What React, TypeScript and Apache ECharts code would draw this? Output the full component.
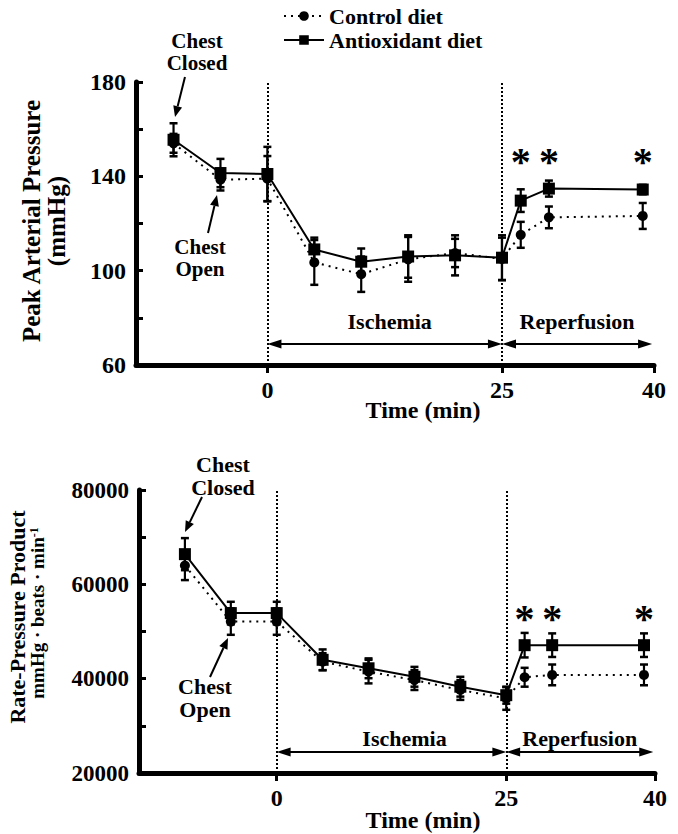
import React, { useEffect, useRef } from "react";
import * as echarts from "echarts";

// ---------------- data ----------------
const times = [-10, -5, 0, 5, 10, 15, 20, 25, 27, 30, 40];

// Peak arterial pressure (mmHg)
const papControl = [154, 138.6, 139, 103.5, 98.5, 104.8, 107.5, 105, 115.2, 122.6, 123.2];
const papControlErr = [4, 4.6, 9.6, 9.5, 7.5, 9.5, 6, 9, 5.5, 4.6, 5.5];
const papAntiox = [155.5, 141.4, 141, 109, 103.8, 106, 106.5, 105.5, 129.7, 134.8, 134.4];
const papAntioxErr = [7, 6, 11.5, 5, 5.6, 9, 8.5, 9.5, 4.8, 3.4, 2];

// Rate-pressure product (mmHg·beats·min-1)
const rppControl = [64000, 52100, 52100, 43600, 41500, 39700, 37600, 35800, 40300, 40800, 40800];
const rppControlErr = [3100, 2800, 2800, 1800, 2500, 2100, 2100, 2400, 2000, 2200, 2200];
const rppAntiox = [66400, 53900, 53900, 44000, 42200, 40400, 38300, 36500, 47100, 47100, 47100];
const rppAntioxErr = [3400, 2400, 2400, 2200, 2100, 2100, 2100, 1800, 2600, 2500, 2500];

// significance markers
const starTimes = [27, 30, 40];
const papStarLevel = 146.5;
const rppStarLevel = 52800;

// axes
const xTickValues = [0, 25, 41.2];
const xTickLabels = ["0", "25", "40"];
const papTickLabels = [60, 100, 140, 180];
const rppTickLabels = [20000, 40000, 60000, 80000];

// phases
const phaseBoundaries = [0, 25];
const ischemiaSpan = [0, 25];
const reperfusionSpan = [25, 41];

// ---------------- styling ----------------
const FF = "'Liberation Serif', 'Times New Roman', Times, serif";
const bold = (s: number) => `bold ${s}px ${FF}`;
const BLACK = "#000";

function errorBarSeries(name: string, idx: number, mean: number[], err: number[]) {
  return {
    type: "custom",
    name: name + " err",
    xAxisIndex: idx,
    yAxisIndex: idx,
    silent: true,
    z: 1,
    data: times.map((t, i) => [t, mean[i] - err[i], mean[i] + err[i]]),
    encode: { x: 0, y: [1, 2] },
    renderItem: (_p: any, api: any) => {
      const x = api.value(0);
      const lo = api.coord([x, api.value(1)]);
      const hi = api.coord([x, api.value(2)]);
      const hw = 4;
      const st = { stroke: BLACK, lineWidth: 2.2 };
      return {
        type: "group",
        children: [
          { type: "line", shape: { x1: hi[0], y1: hi[1], x2: lo[0], y2: lo[1] }, style: st },
          { type: "line", shape: { x1: hi[0] - hw, y1: hi[1], x2: hi[0] + hw, y2: hi[1] }, style: { stroke: BLACK, lineWidth: 2.5 } },
          { type: "line", shape: { x1: lo[0] - hw, y1: lo[1], x2: lo[0] + hw, y2: lo[1] }, style: { stroke: BLACK, lineWidth: 2.5 } },
        ],
      };
    },
  };
}

function starSeries(idx: number, level: number) {
  return {
    type: "custom",
    name: "stars" + idx,
    xAxisIndex: idx,
    yAxisIndex: idx,
    silent: true,
    data: starTimes.map((t) => [t, level]),
    encode: { x: 0, y: 1 },
    renderItem: (_p: any, api: any) => {
      const p = api.coord([api.value(0), api.value(1)]);
      return {
        type: "text",
        x: p[0],
        y: p[1],
        style: { text: "*", font: bold(40), fill: BLACK, textAlign: "center", textVerticalAlign: "middle" },
      };
    },
  };
}

function lineSeries(name: string, idx: number, vals: number[], control: boolean, arrowY: number, labelDist: number, ischPad: number) {
  const s: any = {
    type: "line",
    name,
    xAxisIndex: idx,
    yAxisIndex: idx,
    z: 3,
    data: times.map((t, i) => [t, vals[i]]),
    symbol: control ? "circle" : "rect",
    symbolSize: control ? 10 : 12,
    itemStyle: { color: BLACK },
    lineStyle: { color: BLACK, width: 2, type: control ? [2, 5] : "solid" },
  };
  if (control) {
    s.markLine = {
      silent: true,
      symbol: ["none", "none"],
      label: { show: false },
      lineStyle: { type: [2, 2], color: BLACK, width: 2 },
      data: phaseBoundaries.map((b) => ({ xAxis: b })),
    };
  } else {
    const inset = 0.75;
    const lbl = (text: string, pad: number) => ({
      show: true,
      position: "middle",
      formatter: text,
      fontFamily: FF,
      fontWeight: "bold",
      fontSize: 22,
      color: BLACK,
      distance: labelDist,
      padding: [0, 0, 0, pad],
    });
    s.markLine = {
      silent: true,
      symbol: ["triangle", "triangle"],
      symbolSize: [9, 14],
      lineStyle: { type: "solid", color: BLACK, width: 2 },
      data: [
        [
          { coord: [ischemiaSpan[0] + inset, arrowY], label: lbl("Ischemia", ischPad) },
          { coord: [ischemiaSpan[1] - inset, arrowY] },
        ],
        [
          { coord: [reperfusionSpan[0] + inset, arrowY], label: lbl("Reperfusion", 0) },
          { coord: [reperfusionSpan[1] - inset, arrowY] },
        ],
      ],
    };
  }
  return s;
}

function xAxisCfg(idx: number, min: number) {
  return {
    type: "value",
    gridIndex: idx,
    min,
    max: xTickValues[xTickValues.length - 1],
    splitLine: { show: false },
    axisLine: { show: true, onZero: false, lineStyle: { color: BLACK, width: 5 } },
    axisTick: { show: true, inside: false, length: 8, lineStyle: { color: BLACK, width: 3 }, customValues: xTickValues },
    axisLabel: {
      customValues: xTickValues,
      formatter: (v: number) => {
        const i = xTickValues.findIndex((t) => Math.abs(t - v) < 1e-6);
        return i >= 0 ? xTickLabels[i] : "";
      },
      fontFamily: FF,
      fontWeight: "bold",
      fontSize: 24,
      color: BLACK,
      margin: 13,
    },
  };
}

function yAxisCfg(idx: number, min: number, max: number, interval: number, labels: number[], fs: number) {
  return {
    type: "value",
    gridIndex: idx,
    min,
    max,
    interval,
    splitLine: { show: false },
    axisLine: { show: true, onZero: false, lineStyle: { color: BLACK, width: 5 } },
    axisTick: { show: true, inside: true, length: 7, lineStyle: { color: BLACK, width: 3 } },
    axisLabel: {
      customValues: labels,
      formatter: (v: number) => String(v),
      fontFamily: FF,
      fontWeight: "bold",
      fontSize: fs,
      color: BLACK,
      margin: 10,
    },
  };
}

function arrowGraphic(x1: number, y1: number, x2: number, y2: number) {
  const dx = x2 - x1, dy = y2 - y1;
  const L = Math.hypot(dx, dy);
  const ux = dx / L, uy = dy / L;
  const hl = 11, hw = 4.5;
  const bx = x2 - ux * hl, by = y2 - uy * hl;
  return [
    { type: "line", shape: { x1, y1, x2: bx, y2: by }, style: { stroke: BLACK, lineWidth: 2 } },
    {
      type: "polygon",
      shape: { points: [[x2, y2], [bx - uy * hw, by + ux * hw], [bx + uy * hw, by - ux * hw]] },
      style: { fill: BLACK },
    },
  ];
}

function txt(text: string, x: number, y: number, size: number, rotation = 0, extra: any = {}) {
  return {
    type: "text",
    x,
    y,
    rotation,
    style: { text, font: bold(size), fill: BLACK, textAlign: "center", textVerticalAlign: "middle", ...extra },
  };
}

export default function App() {
  const ref = useRef<HTMLDivElement>(null);
  useEffect(() => {
    if (!ref.current) return;
    const chart = echarts.init(ref.current, null, { renderer: "svg" });
    const R = Math.PI / 2;
    const option: any = {
      animation: false,
      backgroundColor: "#fff",
      legend: {
        data: ["Control diet", "Antioxidant diet"],
        orient: "vertical",
        left: 283,
        top: 5,
        padding: 0,
        itemWidth: 40,
        itemHeight: 12,
        itemGap: 2,
        selectedMode: false,
        textStyle: { fontFamily: FF, fontWeight: "bold", fontSize: 22, color: BLACK },
      },
      grid: [
        { left: 136, top: 82, width: 518, height: 283, outerBoundsMode: "none", containLabel: false },
        { left: 139, top: 490, width: 516, height: 283, outerBoundsMode: "none", containLabel: false },
      ],
      xAxis: [xAxisCfg(0, -14), xAxisCfg(1, -15)],
      yAxis: [yAxisCfg(0, 60, 180, 20, papTickLabels, 24), yAxisCfg(1, 20000, 80000, 10000, rppTickLabels, 23)],
      series: [
        errorBarSeries("Control diet", 0, papControl, papControlErr),
        errorBarSeries("Antioxidant diet", 0, papAntiox, papAntioxErr),
        lineSeries("Control diet", 0, papControl, true, 0, 0, 0),
        lineSeries("Antioxidant diet", 0, papAntiox, false, 68.9, 12, 10),
        starSeries(0, papStarLevel),
        errorBarSeries("Control diet", 1, rppControl, rppControlErr),
        errorBarSeries("Antioxidant diet", 1, rppAntiox, rppAntioxErr),
        lineSeries("Control diet", 1, rppControl, true, 0, 0, 0),
        lineSeries("Antioxidant diet", 1, rppAntiox, false, 24450, 3, 26),
        starSeries(1, rppStarLevel),
      ],
      graphic: [
        // axis titles
        txt("Peak Arterial Pressure", 31, 221, 25, R),
        txt("(mmHg)", 56, 221, 25, R),
        txt("Rate-Pressure Product", 17, 617, 22, R),
        {
          type: "text",
          x: 37,
          y: 613,
          rotation: R,
          style: {
            text: "{a|mmHg · beats · min}{s|-1}",
            fill: BLACK,
            textAlign: "center",
            textVerticalAlign: "middle",
            rich: {
              a: { font: bold(19), fill: BLACK, verticalAlign: "bottom" },
              s: { font: bold(12), fill: BLACK, verticalAlign: "top" },
            },
          },
        },
        txt("Time (min)", 423, 410, 24),
        txt("Time (min)", 423, 820, 24),
        // chest annotations (top)
        txt("Chest\nClosed", 197, 52, 21, 0, { lineHeight: 22 }),
        ...arrowGraphic(185, 77, 175, 117),
        txt("Chest\nOpen", 200, 258, 21, 0, { lineHeight: 22 }),
        ...arrowGraphic(208, 233, 217, 195),
        // chest annotations (bottom)
        txt("Chest\nClosed", 223, 476, 22, 0, { lineHeight: 23 }),
        ...arrowGraphic(202, 497, 185, 532),
        txt("Chest\nOpen", 205, 698, 22, 0, { lineHeight: 23 }),
        ...arrowGraphic(210, 677, 228, 638),
      ],
    };
    chart.setOption(option);
    return () => chart.dispose();
  }, []);
  return (
    <div
      ref={ref}
      style={{ position: "absolute", left: 0, top: 0, width: 678, height: 834, background: "#fff" }}
    />
  );
}
